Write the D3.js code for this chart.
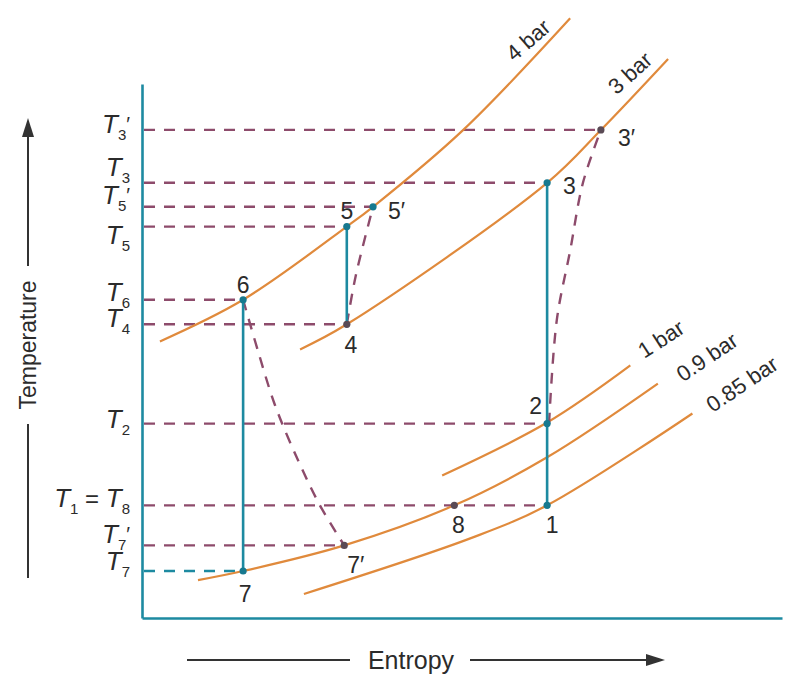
<!DOCTYPE html>
<html>
<head>
<meta charset="utf-8">
<title>T-s diagram</title>
<style>
body { margin: 0; background: #fff; }
text { font-family: "Liberation Sans", Arial, sans-serif; fill: #2b2b2b; }
.iso { fill: none; stroke: #e08a3c; stroke-width: 2.2px; }
.proc { fill: none; stroke: #1d8aa1; stroke-width: 2.6px; }
.dash { fill: none; stroke: #8d4b6b; stroke-width: 2.4px; stroke-dasharray: 11 9; }
.axis path { stroke: #1d8aa1; stroke-width: 2.6px; }
</style>
</head>
<body>
<div id="chart"></div>
<script src="https://cdn.jsdelivr.net/npm/d3@7"></script>
<script>
// state points (entropy s, temperature T), arbitrary 0-100 units
var stateNames = ["1", "2", "3", "3′", "4", "5", "5′", "6", "7", "7′", "8"];
var stateS = [63.3, 63.3, 63.3, 71.7, 32.0, 32.0, 36.1, 15.8, 15.8, 31.6, 48.8];
var stateT = [21.1, 36.4, 81.5, 91.4, 55.0, 73.3, 77.0, 59.6, 8.8, 13.6, 21.1];

// constant pressure lines
var isoNames = ["4 bar", "3 bar", "1 bar", "0.9 bar", "0.85 bar"];
var isoS = [
	[2.8, 15.8, 32.0, 36.1, 50.2, 66.9],
	[24.7, 32.0, 63.3, 71.7, 82.2],
	[46.9, 63.3, 76.3],
	[8.75, 15.8, 31.6, 48.8, 63.3, 80.6],
	[25.3, 51.5, 63.3, 86.0]
];
var isoT = [
	[51.8, 59.6, 73.3, 77.0, 91.4, 112.3],
	[50.3, 55.0, 81.5, 91.4, 104.7],
	[26.7, 36.6, 47.3],
	[7.1, 8.8, 13.6, 21.1, 30.1, 43.9],
	[4.5, 15.0, 21.1, 38.3]
];

// real (irreversible) processes, dashed
var realS = [
	[15.8, 18.1, 20.8, 24.4, 27.8, 31.6],
	[32.0, 33.4, 36.1],
	[63.6, 64.8, 66.9, 68.9, 71.7]
];
var realT = [
	[59.6, 50.1, 39.8, 29.5, 21.1, 13.6],
	[55.0, 64.1, 77.0],
	[36.4, 55.7, 68.8, 81.5, 91.4]
];

// ideal processes, solid: pairs of state names
var idealFrom = ["6", "5", "3"];
var idealTo = ["7", "4", "1"];

// temperature levels marked on the axis
var levelStates = ["3′", "3", "5′", "5", "6", "4", "2", "1", "7′", "7"];

var width = 789, height = 677;
var svg = d3.select("#chart").append("svg").attr("width", width).attr("height", height);

var x = d3.scaleLinear().domain([0, 100]).range([142, 782]);
var y = d3.scaleLinear().domain([0, 100]).range([618, 84]);

function st(name) {
	var i = stateNames.indexOf(name);
	return { s: stateS[i], T: stateT[i] };
}

// axes (frame only)
svg.append("g").attr("class", "axis").attr("transform", "translate(142,0)")
	.call(d3.axisLeft(y).ticks(0).tickSizeOuter(0));
svg.append("g").attr("class", "axis").attr("transform", "translate(0,618)")
	.call(d3.axisBottom(x).ticks(0).tickSizeOuter(0));

// dashed temperature levels
levelStates.forEach(function(n) {
	var p = st(n);
	svg.append("line")
		.attr("x1", x(0) + 2).attr("x2", x(p.s))
		.attr("y1", y(p.T)).attr("y2", y(p.T))
		.attr("class", "dash")
		.style("stroke", n == "7" ? "#1d8aa1" : null);
});

var line = d3.line().curve(d3.curveCatmullRom.alpha(0.5));

// isobars
isoNames.forEach(function(name, k) {
	var pts = isoS[k].map(function(s, j) { return [x(s), y(isoT[k][j])]; });
	svg.append("path").attr("class", "iso").attr("d", line(pts));
});

// isobar labels
var isoLabelPos = [[528, 40, -41], [630, 73, -42], [661, 339, -33], [707, 357, -34], [742, 384, -34]];
isoNames.forEach(function(name, k) {
	var p = isoLabelPos[k];
	svg.append("text").attr("transform", "translate(" + p[0] + "," + p[1] + ") rotate(" + p[2] + ")")
		.attr("text-anchor", "middle").attr("dy", "0.35em")
		.style("font-size", "22px").text(name);
});

// real processes
realS.forEach(function(ss, k) {
	var pts = ss.map(function(s, j) { return [x(s), y(realT[k][j])]; });
	svg.append("path").attr("class", "dash").attr("d", line(pts));
});

// ideal processes
idealFrom.forEach(function(a, k) {
	var p = st(a), q = st(idealTo[k]);
	svg.append("line").attr("class", "proc")
		.attr("x1", x(p.s)).attr("y1", y(p.T))
		.attr("x2", x(q.s)).attr("y2", y(q.T));
});

// state dots
var darkDots = ["3′", "4", "7′", "8"];
stateNames.forEach(function(n) {
	var p = st(n);
	svg.append("circle").attr("cx", x(p.s)).attr("cy", y(p.T)).attr("r", 3.6)
		.style("fill", darkDots.indexOf(n) >= 0 ? "#5a4a55" : "#17798f");
});

// state labels: [dx, dy, anchor]
var labelOff = {
	"1": [5, 28, "middle"], "2": [-5, -10, "end"], "3": [16, 11, "start"],
	"3′": [17, 16, "start"], "4": [4, 29, "middle"], "5": [0, -8, "middle"],
	"5′": [15, 12, "start"], "6": [0, -7, "middle"], "7": [2, 31, "middle"],
	"7′": [3, 28, "start"], "8": [4, 28, "middle"]
};
stateNames.forEach(function(n) {
	var p = st(n), o = labelOff[n];
	svg.append("text").attr("x", x(p.s) + o[0]).attr("y", y(p.T) + o[1])
		.attr("text-anchor", o[2]).style("font-size", "23px").text(n);
});

// T labels on the temperature axis, baseline offset from the level line
var levelLabelDy = { "3′": 3, "3": -7, "5′": -3, "5": 17, "6": 1, "4": 3, "2": 4, "1": 2, "7′": -2, "7": -1 };
function addT(t, label) {
	var sub = label.replace("′", ""), prime = label.indexOf("′") >= 0;
	t.append("tspan").style("font-style", "italic").style("font-size", "26px").text("T");
	t.append("tspan").style("font-size", "15px").attr("dy", 7).text(sub);
	if (prime) {
		t.append("tspan").style("font-size", "20px").attr("dy", -9).text("′");
	}
}
levelStates.forEach(function(n) {
	var p = st(n);
	var t = svg.append("text").attr("x", 130).attr("y", y(p.T) + levelLabelDy[n]).attr("text-anchor", "end");
	if (n == "1") {
		addT(t, "1");
		t.append("tspan").style("font-size", "24px").attr("dy", -7).text(" = ");
		addT(t, "8");
	} else {
		addT(t, n);
	}
});

// axis titles with arrows
var ink = "#333";
svg.append("line").attr("x1", 28).attr("x2", 28).attr("y1", 578).attr("y2", 424)
	.style("stroke", ink).style("stroke-width", 2);
svg.append("line").attr("x1", 28).attr("x2", 28).attr("y1", 266).attr("y2", 134)
	.style("stroke", ink).style("stroke-width", 2);
svg.append("path").attr("d", "M28,118 L22,137 L34,137 Z").style("fill", ink);
svg.append("text").attr("transform", "translate(28,345) rotate(-90)")
	.attr("text-anchor", "middle").attr("dy", "0.35em").style("font-size", "23px")
	.text("Temperature");

svg.append("line").attr("x1", 187).attr("x2", 350).attr("y1", 660).attr("y2", 660)
	.style("stroke", ink).style("stroke-width", 2);
svg.append("line").attr("x1", 470).attr("x2", 648).attr("y1", 660).attr("y2", 660)
	.style("stroke", ink).style("stroke-width", 2);
svg.append("path").attr("d", "M665,660 L646,654 L646,666 Z").style("fill", ink);
svg.append("text").attr("x", 411).attr("y", 660).attr("dy", "0.35em")
	.attr("text-anchor", "middle").style("font-size", "25px").text("Entropy");
</script>
</body>
</html>
